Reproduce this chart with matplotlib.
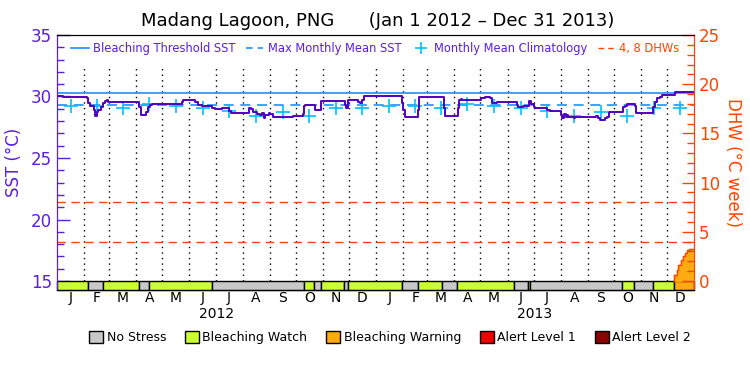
import numpy as np
import pandas as pd
import matplotlib
matplotlib.use("Agg")
import matplotlib.pyplot as plt
from matplotlib.lines import Line2D
from matplotlib.patches import Patch, Rectangle

# ---- data (days counted from Jan 1 2012) ----
sst_day = [0, 7, 34, 36, 38, 42, 44, 46, 47, 51, 53, 55, 57, 59, 94, 96, 102, 105, 107, 109,
           143, 145, 158, 162, 166, 178, 181, 189, 197, 200, 220, 223, 225, 229, 233, 235,
           237, 239, 243, 244, 248, 271, 279, 282, 283, 285, 296, 303, 330, 332, 334, 334.5,
           346, 348, 350, 352, 355, 357, 359, 396, 397, 399, 414, 416, 444, 445, 460, 461,
           464, 465, 487, 491, 497, 499, 503, 505, 528, 529, 533, 535, 539, 542, 544, 547,
           549, 562, 566, 578, 580, 582, 584, 585, 587, 589, 593, 594, 596, 617, 619, 621,
           623, 629, 631, 633, 650, 652, 654, 663, 665, 684, 686, 688, 692, 694, 709, 731]
sst_val = [30.04, 29.99, 29.85, 29.44, 29.25, 28.90, 28.45, 28.77, 28.90, 29.17, 29.44, 29.66,
           29.71, 29.58, 29.17, 28.50, 28.77, 29.17, 29.31, 29.36,
           29.58, 29.71, 29.58, 29.31, 29.20, 29.04, 28.98, 29.04, 28.82, 28.63, 29.04, 28.98,
           28.77, 28.55, 28.50, 28.63, 28.23, 28.50, 28.63, 28.55, 28.31, 28.41, 28.45, 28.55,
           29.25, 29.31, 28.90, 29.63, 29.31, 29.04, 29.58, 29.71,
           29.58, 29.44, 29.71, 30.00, 30.06, 30.04, 30.04, 29.44, 28.90, 28.31, 28.90, 29.93,
           29.04, 28.41, 29.04, 29.71, 29.80, 29.71, 29.85, 29.93, 29.85, 29.44, 29.44, 29.58,
           29.31, 29.12, 29.12, 29.25, 29.25, 29.63, 29.36, 29.12, 29.09, 28.90, 28.82, 28.50,
           28.23, 28.55, 28.36, 28.50, 28.36, 28.31, 28.23, 28.36, 28.31, 28.36, 28.41, 28.23,
           28.09, 28.23, 28.31, 28.77, 29.17, 29.25, 29.36, 29.25, 28.63, 29.17, 29.58, 29.85,
           29.93, 30.12, 30.34, 30.34]

clim_month = [29.2, 29.2, 29.1, 29.35, 29.25, 29.1, 28.8, 28.4, 28.7, 28.45, 29.1, 29.05]
mmm = 29.27
threshold = 30.27
dhw_lines = [4, 8]

dhw_day = [708, 711, 713, 716, 718, 721, 723, 725, 731]
dhw_val = [0.6, 1.1, 1.6, 2.1, 2.5, 2.8, 3.15, 3.3, 3.3]

status_edges = [0, 36, 53, 94, 106, 178, 283, 295, 303, 329, 334, 396, 414, 442, 459, 525,
                540, 543, 648, 662, 684, 708, 731]
status_cat = [1, 0, 1, 0, 1, 0, 1, 0, 1, 0, 1, 0, 1, 0, 1, 0, 1, 0, 1, 0, 1, 2]

status_names = ["No Stress", "Bleaching Watch", "Bleaching Warning", "Alert Level 1", "Alert Level 2"]
status_colors = ["#c8c8c8", "#ccff33", "#ffaa11", "#ee0000", "#8b0000"]
month_letters = list("JFMAMJJASOND")
years = ["2012", "2013"]

PURPLE = "#5a1ee0"
LINE = "#5000c0"
BLUE = "#1e90ff"
CYAN = "#00bfff"
ORANGE = "#ff4400"

# ---- figure ----
fig = plt.figure(figsize=(7.5, 3.75), dpi=100)
ax = fig.add_axes([0.076, 0.2267, 0.8493, 0.68])
ax2 = ax.twinx()

ax.set_xlim(0, 731)
ax.set_ylim(14.27, 35)
ax2.set_ylim((14.27 - 15) * 1.25, 25)

month_start = pd.date_range("2012-01-01", "2014-01-01", freq="MS")
mdays = np.array((month_start - pd.Timestamp("2012-01-01")).days)
mid = 0.5 * (mdays[:-1] + mdays[1:])

# month separators
for d in mdays[1:-1]:
    ax.plot([d, d], [15, 32.55], color="black", ls=(0, (1, 3)), lw=1)

# threshold / MMM
ax.axhline(threshold, color=BLUE, lw=1.2)
ax.axhline(mmm, color=BLUE, lw=1.2, ls=(0, (6, 4)))
for v in dhw_lines:
    ax2.axhline(v, color=ORANGE, lw=1, ls=(0, (6, 4)))

# climatology
ax.plot(mid, clim_month * 2, ls="none", marker="+", ms=10, mew=1.2, color=CYAN)

# SST
ax.plot(sst_day, sst_val, drawstyle="steps-post", color=LINE, lw=1.4)

# DHW
ax2.fill_between(dhw_day, 0, dhw_val, step="post", color=status_colors[2], zorder=1)
ax2.step(dhw_day, dhw_val, where="post", color=ORANGE, lw=1)
ax2.plot([dhw_day[0], dhw_day[0]], [0, dhw_val[0]], color=ORANGE, lw=1)

# status bar
for i, c in enumerate(status_cat):
    ax.add_patch(Rectangle((status_edges[i], 14.27), status_edges[i + 1] - status_edges[i],
                           15 - 14.27, facecolor=status_colors[c], edgecolor="black",
                           lw=1, zorder=3, clip_on=False))

# axes styling
ax.set_xticks([])
ax.set_yticks(range(15, 36, 5))
ax.set_yticks(range(15, 36), minor=True)
ax.tick_params(axis="y", which="both", direction="in", colors=PURPLE, labelsize=12)
ax.tick_params(axis="y", which="major", length=9, width=1)
ax.tick_params(axis="y", which="minor", length=5, width=1)
ax2.set_yticks(range(0, 26, 5))
ax2.set_yticks(range(0, 26), minor=True)
ax2.tick_params(axis="y", which="both", direction="in", colors=ORANGE, labelsize=12)
ax2.tick_params(axis="y", which="major", length=9, width=1)
ax2.tick_params(axis="y", which="minor", length=5, width=1)
ax.spines["left"].set_color(PURPLE)
ax2.spines["left"].set_color(PURPLE)
ax2.spines["right"].set_color(ORANGE)
ax.spines["right"].set_color(ORANGE)
ax.set_ylabel("SST (°C)", color=PURPLE, fontsize=12, labelpad=6)
ax2.set_ylabel("DHW (°C week)", color=ORANGE, fontsize=12, rotation=270, labelpad=16)

for d, m in zip(mid, month_letters * 2):
    ax.text(d, 13.6, m, ha="center", va="center", fontsize=10)
for i, y in enumerate(years):
    ax.text(0.5 * (mdays[12 * i] + mdays[12 * i + 12]), 12.35, y, ha="center", va="center", fontsize=10)

fig.text(0.504, 0.945, "Madang Lagoon, PNG      (Jan 1 2012 \u2013 Dec 31 2013)",
         ha="center", va="center", fontsize=13)

# top legend
top_handles = [Line2D([], [], color=BLUE, lw=1.2),
               Line2D([], [], color=BLUE, lw=1.2, ls=(0, (4, 3))),
               Line2D([], [], color=CYAN, ls="none", marker="+", ms=8, mew=1.2),
               Line2D([], [], color=ORANGE, lw=1, ls=(0, (4, 3)))]
top_labels = ["Bleaching Threshold SST", "Max Monthly Mean SST", "Monthly Mean Climatology", "4, 8 DHWs"]
leg = ax2.legend(top_handles, top_labels, loc="upper center", bbox_to_anchor=(0.5, 1.0),
                 ncol=4, frameon=False, fontsize=8.3, handlelength=1.5, handletextpad=0.4,
                 columnspacing=0.9, borderaxespad=0.25)
for t, col in zip(leg.get_texts(), [PURPLE, PURPLE, PURPLE, ORANGE]):
    t.set_color(col)

# bottom legend
bot_handles = [Patch(facecolor=c, edgecolor="black", lw=1) for c in status_colors]
fig.legend(bot_handles, status_names, loc="center left", bbox_to_anchor=(0.104, 0.1),
           ncol=5, frameon=False, fontsize=9, handlelength=1.1, handleheight=1.1,
           handletextpad=0.3, columnspacing=1.5)

fig.savefig("out.png", dpi=100)
